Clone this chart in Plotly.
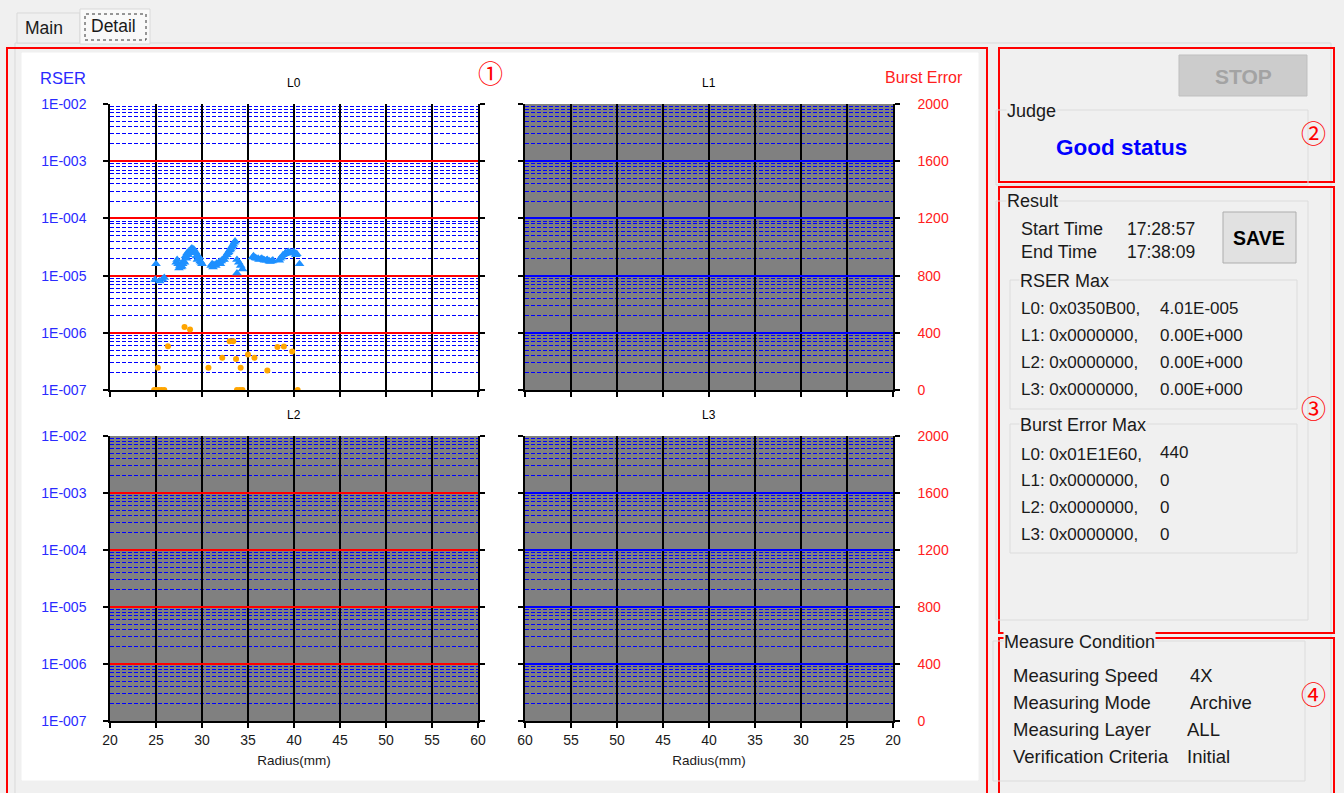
import plotly.graph_objects as go

W, H = 1344, 793
# plotly keeps an 8px inset around the paper area, so paper fractions are taken inside it
INS = 8
PW, PH = W - 2 * INS, H - 2 * INS

# ---------------- data ----------------
layer_names = ["L0", "L1", "L2", "L3"]
radius_ticks = [20, 25, 30, 35, 40, 45, 50, 55, 60]
rser_tick_vals = [1e-7, 1e-6, 1e-5, 1e-4, 1e-3, 1e-2]
rser_tick_text = ["1E-007", "1E-006", "1E-005", "1E-004", "1E-003", "1E-002"]
burst_tick_vals = [0, 400, 800, 1200, 1600, 2000]
burst_tick_text = ["0", "400", "800", "1200", "1600", "2000"]
minor_digits = [2, 3, 4, 5, 6, 7, 8, 9]

l0_rser_radius = [25.0, 24.9, 25.4, 25.7, 25.9,
                  27.2, 27.3, 27.4, 27.5, 27.6, 27.7, 27.8, 27.9, 28.0, 28.1, 28.2, 28.3, 28.4, 28.5,
                  28.6, 28.7, 28.8, 28.9, 29.0, 29.1, 29.2, 29.3, 29.4, 29.5, 29.6, 29.7, 29.8, 29.9, 30.0,
                  31.0, 31.1, 31.2, 31.3, 31.5, 31.6, 31.8, 31.9, 32.0, 32.1, 32.2, 32.4, 32.5, 32.7, 32.8,
                  32.9, 33.0, 33.1, 33.2, 33.3, 33.4, 33.5, 33.6,
                  33.8, 34.0, 34.2, 34.4, 33.8,
                  35.5, 35.6, 35.8, 35.9, 36.1, 36.2, 36.4, 36.5, 36.7, 36.8, 37.0, 37.1, 37.3, 37.4, 37.6, 37.7,
                  38.4, 38.5, 38.7, 38.8, 39.0, 39.1, 39.3, 39.4, 39.6, 39.7, 39.9, 40.0, 40.2, 40.3, 40.6]
l0_rser_value = [1.6e-5, 8.5e-6, 8.0e-6, 8.6e-6, 9.2e-6,
                 1.7e-5, 1.9e-5, 1.6e-5, 1.35e-5, 1.5e-5, 1.4e-5, 1.45e-5, 1.6e-5, 1.8e-5, 1.7e-5, 2.2e-5, 2.0e-5,
                 2.5e-5, 2.3e-5,
                 2.7e-5, 2.6e-5, 2.9e-5, 3.0e-5, 2.8e-5, 2.9e-5, 2.5e-5, 2.6e-5, 2.2e-5, 1.9e-5, 2.0e-5, 2.1e-5,
                 1.8e-5, 1.7e-5, 1.6e-5,
                 1.5e-5, 1.6e-5, 1.4e-5, 1.55e-5, 1.5e-5, 1.65e-5, 1.6e-5, 1.75e-5, 1.6e-5, 1.8e-5, 1.9e-5,
                 1.9e-5, 2.1e-5, 2.3e-5, 2.5e-5,
                 2.6e-5, 2.8e-5, 2.9e-5, 3.1e-5, 3.3e-5, 3.5e-5, 3.8e-5, 4.0e-5,
                 1.9e-5, 1.7e-5, 1.5e-5, 1.3e-5, 1.1e-5,
                 2.1e-5, 2.2e-5, 2.05e-5, 2.0e-5, 2.0e-5, 1.9e-5, 1.95e-5, 2.0e-5, 1.9e-5, 1.85e-5, 1.85e-5,
                 1.9e-5, 1.8e-5, 1.75e-5, 1.8e-5, 1.85e-5,
                 1.85e-5, 2.0e-5, 2.1e-5, 2.3e-5, 2.4e-5, 2.5e-5, 2.5e-5, 2.6e-5, 2.55e-5, 2.45e-5, 2.5e-5,
                 2.6e-5, 2.3e-5, 2.4e-5, 1.6e-5]

l0_burst_radius = [24.8, 25.0, 25.3, 25.6, 25.9, 25.2, 26.3, 28.1, 28.7, 30.7, 32.2, 33.0, 33.4, 33.7,
                   34.2, 33.8, 34.1, 34.4, 35.0, 35.7, 37.1, 38.2, 38.9, 39.8, 40.4]
l0_burst_value = [0, 0, 0, 0, 0, 155, 306, 441, 423, 155, 225, 341, 341, 216,
                  155, 0, 0, 0, 249, 225, 137, 300, 304, 270, 0]

result_rows = ["L0: 0x0350B00,", "L1: 0x0000000,", "L2: 0x0000000,", "L3: 0x0000000,"]
rser_max_vals = ["4.01E-005", "0.00E+000", "0.00E+000", "0.00E+000"]
burst_rows = ["L0: 0x01E1E60,", "L1: 0x0000000,", "L2: 0x0000000,", "L3: 0x0000000,"]
burst_max_vals = ["440", "0", "0", "0"]
cond_labels = ["Measuring Speed", "Measuring Mode", "Measuring Layer", "Verification Criteria"]
cond_values = ["4X", "Archive", "ALL", "Initial"]

FONT = "Liberation Sans, Arial, sans-serif"

# minor (dashed) gridline positions inside each decade of the RSER axis
minor_grid_vals = [d * dec for dec in rser_tick_vals[:-1] for d in minor_digits]


def px(x):
    return (x - INS) / PW


def py(y):
    return 1 - (y - INS) / PH


shapes = []
annotations = []


def rect(x0, y0, x1, y1, line="#d9d9d9", width=1, fill=None, dash=None, layer="below"):
    d = dict(type="rect", xref="paper", yref="paper", x0=px(x0), x1=px(x1), y0=py(y1), y1=py(y0),
             line=dict(color=line, width=width), layer=layer)
    if dash:
        d["line"]["dash"] = dash
    if fill:
        d["fillcolor"] = fill
    shapes.append(d)


def text(t, x, y, size=17.5, color="#1a1a1a", anchor="left", bold=False, family=FONT, bg=None):
    a = dict(text=("<b>%s</b>" % t) if bold else t, xref="paper", yref="paper", x=px(x), y=py(y),
             xanchor=anchor, yanchor="middle", showarrow=False,
             font=dict(size=size, color=color, family=family))
    if bg:
        a["bgcolor"] = bg
        a["borderpad"] = 0
    annotations.append(a)


# ---------------- window chrome ----------------
rect(15, 43, 1331, 800, line="#d9d9d9")
rect(17, 13, 80, 43, line="#d9d9d9", fill="#f0f0f0")
rect(80, 9, 150, 44, line="#d9d9d9", fill="#f9f9f9")
rect(85, 14, 146, 40, line="#333333", dash="dot")
text("Main", 23, 28)
text("Detail", 89, 26)

rect(22, 53, 978, 780, line="#ffffff", fill="#ffffff")
rect(7, 48, 987, 800, line="#ff0000", width=2)
rect(999, 48, 1334, 182, line="#ff0000", width=2)
rect(999, 187, 1334, 633, line="#ff0000", width=2)
rect(999, 638, 1334, 800, line="#ff0000", width=2)

CJK = "Noto Sans CJK JP, DejaVu Sans"
text("①", 490, 72, size=25, color="#ff0000", anchor="center", family=CJK)
text("②", 1313, 132, size=25, color="#ff0000", anchor="center", family=CJK)
text("③", 1313, 407, size=25, color="#ff0000", anchor="center", family=CJK)
text("④", 1313, 693, size=25, color="#ff0000", anchor="center", family=CJK)

# STOP / Judge
rect(1179, 55, 1307, 96, line="#bfbfbf", fill="#cccccc")
text("STOP", 1243, 76, size=21, color="#a3a3a3", anchor="center", bold=True)
rect(996, 110, 1308, 185, line="#dcdcdc")
text("Judge", 1006, 111, size=18, bg="#f0f0f0")
text("Good status", 1054, 147, size=22.5, color="#0000ff", bold=True)

# Result
rect(996, 201, 1308, 620, line="#dcdcdc")
text("Result", 1006, 201, size=18, bg="#f0f0f0")
text("Start Time", 1019, 229, size=18)
text("17:28:57", 1125, 229, size=17.5)
text("End Time", 1019, 252, size=18)
text("17:38:09", 1125, 252, size=17.5)
rect(1223, 212, 1296, 263, line="#adadad", fill="#e1e1e1")
text("SAVE", 1259, 238, size=19.5, color="#000000", anchor="center", bold=True)

rect(1010, 280, 1297, 409, line="#dcdcdc")
text("RSER Max", 1019, 281, size=18, bg="#f0f0f0")
for i, (r, v) in enumerate(zip(result_rows, rser_max_vals)):
    text(r, 1019, 308 + 27 * i, size=17)
    text(v, 1158, 308 + 27 * i, size=17)

rect(1010, 424, 1297, 553, line="#dcdcdc")
text("Burst Error Max", 1019, 425, size=18, bg="#f0f0f0")
burst_y = [455, 480, 507, 534]
for i, (r, v) in enumerate(zip(burst_rows, burst_max_vals)):
    text(r, 1019, burst_y[i], size=17)
    text(v, 1158, burst_y[i] - (3 if i == 0 else 0), size=17)

rect(993, 641, 1305, 781, line="#dcdcdc")
text("Measure Condition", 1003, 642, size=18, bg="#f0f0f0")
cond_x = [1188, 1188, 1185, 1185]
for i, (l, v) in enumerate(zip(cond_labels, cond_values)):
    text(l, 1011, 675 + 27 * i, size=18.5)
    text(v, cond_x[i], 675 + 27 * i, size=18.5)

# ---------------- charts ----------------
charts = [
    dict(x=(110, 478), y=(104, 390), rev=False, major="#ff0000", left=True, right=False, xl=False),
    dict(x=(525, 893), y=(104, 390), rev=True, major="#0000ff", left=False, right=True, xl=False),
    dict(x=(110, 478), y=(436, 721), rev=False, major="#ff0000", left=True, right=False, xl=True),
    dict(x=(525, 893), y=(436, 721), rev=True, major="#0000ff", left=False, right=True, xl=True),
]

layout = dict(width=W, height=H, autosize=False, margin=dict(l=0, r=0, t=0, b=0),
              paper_bgcolor="#f0f0f0", plot_bgcolor="#ffffff", showlegend=False,
              font=dict(family=FONT, size=14, color="#000000"))

fig = go.Figure()
for i, c in enumerate(charts, start=1):
    xn = "xaxis" if i == 1 else "xaxis%d" % i
    yn = "yaxis" if i == 1 else "yaxis%d" % i
    bn = "yaxis%d" % (i + 4)
    xr = "x" if i == 1 else "x%d" % i
    yr = "y" if i == 1 else "y%d" % i
    br = "y%d" % (i + 4)
    layout[xn] = dict(domain=[px(c["x"][0]), px(c["x"][1])], anchor=yr,
                      range=[60, 20] if c["rev"] else [20, 60],
                      tickmode="array", tickvals=radius_ticks, ticktext=[str(v) for v in radius_ticks],
                      showticklabels=c["xl"], ticks="outside", ticklen=5, tickcolor="#000000", tickwidth=1.5,
                      showgrid=True, gridcolor="#000000", gridwidth=1.5, zeroline=False,
                      showline=True, linecolor="#000000", linewidth=1.5,
                      tickfont=dict(size=14, color="#1a1a1a"),
                      title=dict(text="Radius(mm)" if c["xl"] else "", font=dict(size=13.5, color="#1a1a1a"),
                                 standoff=9))
    layout[yn] = dict(domain=[py(c["y"][1]), py(c["y"][0])], anchor=xr, type="log", range=[-7, -2],
                      tickmode="array", tickvals=rser_tick_vals, ticktext=rser_tick_text,
                      showticklabels=c["left"], ticks="outside", ticklen=5, tickcolor="#000000", tickwidth=1.5,
                      ticklabelstandoff=14, tickfont=dict(size=14, color="#2a2aff"),
                      showgrid=True, gridcolor=c["major"], gridwidth=1.5, zeroline=False,
                      showline=True, linecolor="#000000", linewidth=1.5,
                      minor=dict(tickmode="array", tickvals=minor_grid_vals, showgrid=True,
                                 gridcolor="#0000ff", gridwidth=1, griddash="4px,2px", ticks=""))
    layout[bn] = dict(overlaying=yr, anchor=xr, side="right", range=[0, 2000],
                      tickmode="array", tickvals=burst_tick_vals, ticktext=burst_tick_text,
                      showticklabels=c["right"], ticks="outside", ticklen=5, tickcolor="#000000", tickwidth=1.5,
                      ticklabelstandoff=15, tickfont=dict(size=14, color="#ff2020"),
                      showgrid=False, zeroline=False, showline=True, linecolor="#000000", linewidth=1.5)
    if i > 1:
        shapes.append(dict(type="rect", xref="%s domain" % xr, yref="%s domain" % yr, x0=0, x1=1, y0=0, y1=1,
                           fillcolor="#808080", line=dict(width=0), layer="below"))
    # empty traces so every axis is drawn
    fig.add_trace(go.Scatter(x=[], y=[], xaxis=xr, yaxis=yr, hoverinfo="skip"))
    fig.add_trace(go.Scatter(x=[], y=[], xaxis=xr, yaxis=br, hoverinfo="skip"))
    text(layer_names[i - 1], (c["x"][0] + c["x"][1]) / 2, c["y"][0] - 21, size=12, color="#000000", anchor="center")

text("RSER", 38, 78, size=16.5, color="#2a2aff")
text("Burst Error", 883, 78, size=16, color="#ff2020")

fig.add_trace(go.Scatter(x=l0_burst_radius, y=l0_burst_value, xaxis="x", yaxis="y5", mode="markers",
                         marker=dict(color="#ffa500", size=6, symbol="circle"), name="Burst Error"))
fig.add_trace(go.Scatter(x=l0_rser_radius, y=l0_rser_value, xaxis="x", yaxis="y", mode="markers",
                         marker=dict(color="#1e90ff", size=8.5, symbol="triangle-up"), name="RSER"))

layout["shapes"] = shapes
layout["annotations"] = annotations
fig.update_layout(**layout)
post = ("document.documentElement.style.background='#f0f0f0';document.body.style.background='#f0f0f0';"
        "document.body.style.margin='0';document.body.style.overflow='hidden';")
fig.write_html("out.html", config={"displayModeBar": False}, post_script=post)
